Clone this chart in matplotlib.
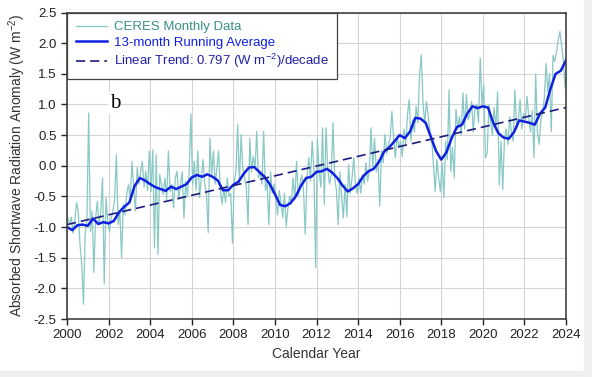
import numpy as np
import matplotlib
matplotlib.use("Agg")
import matplotlib.pyplot as plt
from matplotlib.patches import Rectangle

plt.rcParams['font.family'] = ['Liberation Sans', 'DejaVu Sans']
plt.rcParams['mathtext.default'] = 'regular'

# CERES monthly absorbed shortwave anomaly (W m-2), one row per year, Jan..Dec
ceres_monthly = [
    -0.85, -0.95, -0.84, -1.10, -0.90, -0.60, -0.75, -1.28, -1.60, -2.26, -1.10, -0.90,  # 2000
    0.86, -1.07, -0.74, -1.74, -0.85, -0.58, -0.96, -0.75, -0.20, -1.93, -0.52, -0.90,   # 2001
    -1.07, -0.85, -0.74, -0.55, 0.18, -0.96, -0.75, -1.50, -0.63, -0.80, -0.45, -0.31,   # 2002
    -0.55, 0.07, -0.35, -0.74, -0.03, -0.30, -0.10, 0.07, -0.35, -0.09, -0.40, 0.24,     # 2003
    -0.42, 0.26, -1.34, 0.18, -1.45, -0.14, -0.30, -0.47, -0.20, -0.55, 0.24, -0.42,     # 2004
    -0.30, -0.69, -0.20, -0.09, -0.55, -0.30, -0.10, -0.85, -0.25, -0.50, -0.10, 0.85,   # 2005
    -0.31, 0.07, -0.40, 0.24, -0.52, -0.20, 0.10, -0.30, -0.45, -1.09, 0.45, -0.15,      # 2006
    0.24, -0.30, -0.05, 0.24, -0.40, -0.63, -0.35, -0.60, -0.20, -0.50, -0.45, -1.26,    # 2007
    -0.25, -0.10, 0.67, -0.30, 0.51, -0.05, -0.20, -0.35, -0.96, 0.45, -0.10, 0.15,      # 2008
    -0.05, 0.56, -0.20, -0.10, -0.30, 0.56, -0.40, -0.25, -0.96, -0.10, -0.45, -0.30,    # 2009
    -0.55, -0.80, -0.40, -0.60, -0.85, -0.45, -0.99, -0.70, -0.50, -0.60, -0.20, -0.55,  # 2010
    0.07, -0.50, -0.30, -0.15, -0.40, -1.12, -0.20, 0.13, -0.25, 0.40, -0.05, -1.66,     # 2011
    0.45, -0.10, -0.35, 0.62, -0.63, 0.62, -0.05, -0.30, -0.15, 0.70, -0.20, -0.40,      # 2012
    -0.96, -0.10, -0.50, -0.85, -0.30, -0.83, 0.02, -0.45, -0.20, 0.13, -0.30, -0.45,    # 2013
    -0.20, -0.45, -0.15, -0.30, 0.05, -0.25, -0.10, 0.62, -0.05, 0.45, -0.10, 0.10,      # 2014
    -0.66, 0.25, 0.05, 0.51, 0.20, 0.35, 0.45, 0.89, 0.45, 0.13, 0.50, 0.30,             # 2015
    0.40, 0.15, 0.60, 0.35, 0.83, 1.08, 0.40, 0.75, 0.55, 0.97, 0.70, 1.49,              # 2016
    1.81, 1.00, 0.70, 1.05, 0.80, 0.55, 0.45, 0.02, -0.42, 0.10, -0.20, -0.42,           # 2017
    0.05, -0.52, 0.40, 0.10, 1.24, -0.09, 0.30, -0.20, 0.92, 0.60, 0.80, 0.50,           # 2018
    1.19, 0.60, 1.16, 0.75, 0.85, 1.05, 0.55, 0.95, 1.00, 0.70, 1.76, 1.00,              # 2019
    1.32, 0.13, 0.20, 1.00, 0.70, 0.50, 0.95, 0.60, 1.21, -0.31, 0.40, -0.39,            # 2020
    0.45, 0.60, 0.35, 0.80, 0.55, 0.40, 1.24, 0.60, 0.75, 1.08, 0.60, 0.85,              # 2021
    0.75, 1.13, 0.80, 0.55, 0.90, 0.13, 1.49, 0.55, 0.35, 0.75, 0.90, 1.10,              # 2022
    1.67, 1.20, 1.50, 0.56, 1.80, 1.70, 1.85, 2.05, 2.19, 1.95, 1.70, 1.27,              # 2023
]
first_year = 2000

# 13-month running average, read quarterly from 2000.0 to 2024.0
running_avg = [
    -1.00, -1.05, -0.97, -0.96, -0.98, -0.86, -0.95, -0.92,
    -0.94, -0.90, -0.76, -0.67, -0.60, -0.33, -0.20, -0.24,
    -0.30, -0.35, -0.38, -0.41, -0.34, -0.38, -0.34, -0.30,
    -0.19, -0.15, -0.18, -0.14, -0.18, -0.24, -0.40, -0.40,
    -0.31, -0.26, -0.13, -0.03, -0.02, -0.10, -0.18, -0.30,
    -0.46, -0.64, -0.66, -0.61, -0.50, -0.33, -0.20, -0.18,
    -0.10, -0.09, -0.05, -0.11, -0.20, -0.32, -0.42, -0.37,
    -0.30, -0.17, -0.09, -0.05, 0.06, 0.23, 0.30, 0.40,
    0.50, 0.45, 0.56, 0.78, 0.77, 0.70, 0.47, 0.24,
    0.10, 0.22, 0.45, 0.63, 0.67, 0.85, 0.97, 0.94,
    0.97, 0.95, 0.70, 0.53, 0.46, 0.44, 0.55, 0.74,
    0.72, 0.70, 0.67, 0.85, 0.95, 1.25, 1.50, 1.55,
    1.72,
]

# linear trend end points
trend_years = [2000, 2024]
trend_vals = [-0.96, 0.95]

month_x = first_year + (np.arange(len(ceres_monthly)) + 0.5) / 12
ra_x = first_year + np.arange(len(running_avg)) * 0.25

fig = plt.figure(figsize=(5.92, 3.77), dpi=100)
fig.patches.append(Rectangle((0, 0), 1, 6 / 377, transform=fig.transFigure,
                             color='#f0f0f0', zorder=0))
fig.patches.append(Rectangle((584 / 592, 0), 8 / 592, 1, transform=fig.transFigure,
                             color='#f0f0f0', zorder=0))
ax = fig.add_axes([67 / 592, 1 - 319 / 377, 499 / 592, 306.5 / 377])

ax.plot(month_x, ceres_monthly, color='#88c8c5', lw=0.9,
        label='CERES Monthly Data')
ax.plot(ra_x, running_avg, color='#1020e0', lw=1.8,
        label='13-month Running Average')
ax.plot(trend_years, trend_vals, color='#1c1c80', lw=1.2, dashes=(5.5, 3),
        label='Linear Trend: 0.797 (W m$^{-2}$)/decade')

ax.set_xlim(2000, 2024)
ax.set_ylim(-2.5, 2.5)
ax.set_xticks(np.arange(2000, 2025, 2))
ax.set_yticks(np.arange(-2.5, 2.51, 0.5))
ax.set_yticklabels([f'{v:.1f}' for v in np.arange(-2.5, 2.51, 0.5)])
ax.grid(True, color='#d4d4d4', lw=0.8)
ax.set_axisbelow(True)
ax.tick_params(direction='out', length=4, width=1, labelsize=9.5,
               colors='#222222')
for s in ax.spines.values():
    s.set_color('#333333')
    s.set_linewidth(1.1)

ax.set_xlabel('Calendar Year', fontsize=10, color='#333333')
ax.set_ylabel('Absorbed Shortwave Radiation Anomaly (W m$^{-2}$)',
              fontsize=10, color='#333333', labelpad=4)

ax.text(2002.3, 1.02, 'b', family='Liberation Serif', fontsize=15,
        ha='center', va='center',
        bbox=dict(facecolor='white', edgecolor='none', pad=1))

leg = ax.legend(loc='upper left', bbox_to_anchor=(0, 1), borderaxespad=0,
                fancybox=False, framealpha=1, edgecolor='#444444',
                fontsize=9.5, handlelength=2.4, labelspacing=0.25,
                borderpad=0.65, handletextpad=0.5)
leg.get_frame().set_linewidth(0.9)
for txt, c in zip(leg.get_texts(), ['#3a8f88', '#1020e0', '#2020a8']):
    txt.set_color(c)

fig.savefig('out.png', dpi=100)
